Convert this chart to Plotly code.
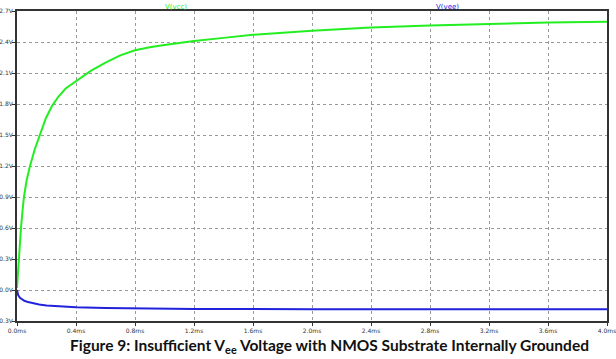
import plotly.graph_objects as go

# Data (time in ms, voltage in V)
vcc_t = [0, 0.004, 0.008, 0.0136, 0.02, 0.027, 0.037, 0.047, 0.065, 0.088, 0.12, 0.156, 0.195, 0.237, 0.28, 0.33, 0.4, 0.5, 0.6, 0.7, 0.8, 0.9, 1.0, 1.2, 1.4, 1.6, 2.0, 2.4, 2.8, 3.2, 3.6, 4.0]
vcc_v = [0.02, 0.12, 0.21, 0.3, 0.45, 0.6, 0.76, 0.9, 1.06, 1.2, 1.36, 1.5, 1.66, 1.78, 1.87, 1.95, 2.02, 2.12, 2.2, 2.27, 2.32, 2.35, 2.37, 2.41, 2.44, 2.47, 2.51, 2.54, 2.56, 2.575, 2.588, 2.595]
vee_t = [0, 0.003, 0.008, 0.02, 0.035, 0.05, 0.075, 0.1, 0.15, 0.2, 0.3, 0.4, 0.6, 0.8, 1.2, 2.0, 4.0]
vee_v = [0.0, -0.03, -0.05, -0.075, -0.092, -0.104, -0.117, -0.127, -0.14, -0.15, -0.16, -0.166, -0.173, -0.178, -0.183, -0.186, -0.187]

x_ticks = [0.0, 0.4, 0.8, 1.2, 1.6, 2.0, 2.4, 2.8, 3.2, 3.6, 4.0]
x_labels = ["0.0ms", "0.4ms", "0.8ms", "1.2ms", "1.6ms", "2.0ms", "2.4ms", "2.8ms", "3.2ms", "3.6ms", "4.0ms"]
y_ticks = [-0.3, 0.0, 0.3, 0.6, 0.9, 1.2, 1.5, 1.8, 2.1, 2.4, 2.7]
y_labels = ["-0.3V", "0.0V", "0.3V", "0.6V", "0.9V", "1.2V", "1.5V", "1.8V", "2.1V", "2.4V", "2.7V"]

caption = "Figure 9: Insufficient V<sub>ee</sub> Voltage with NMOS Substrate Internally Grounded"

fig = go.Figure()
fig.add_trace(go.Scatter(x=vcc_t, y=vcc_v, mode="lines", line=dict(color="#22ee22", width=2), name="V(vcc)"))
fig.add_trace(go.Scatter(x=vee_t, y=vee_v, mode="lines", line=dict(color="#2222dd", width=2), name="V(vee)"))

tickfont = dict(family="DejaVu Sans", size=6, color="#333333")
fig.update_xaxes(range=[0, 4.0], tickvals=x_ticks, ticktext=x_labels, showgrid=True,
                 gridcolor="#999999", griddash="dot", gridwidth=1, zeroline=False,
                 showline=True, linecolor="#333333", linewidth=2, mirror=True, automargin=False,
                 ticklabeloverflow="allow",
                 ticks="outside", ticklen=3, tickcolor="#333333", tickfont=tickfont)
fig.update_yaxes(range=[-0.3, 2.7], tickvals=y_ticks, ticktext=y_labels, showgrid=True,
                 gridcolor="#999999", griddash="dot", gridwidth=1, zeroline=False,
                 showline=True, linecolor="#333333", linewidth=2, mirror=True, automargin=False,
                 ticklabeloverflow="allow",
                 ticks="outside", ticklen=3, ticklabelstandoff=-2, tickcolor="#333333", tickfont=tickfont)

fig.add_annotation(text="V(vcc)", x=0.247, y=1.0, xref="paper", yref="paper", yanchor="bottom",
                   showarrow=False, font=dict(family="DejaVu Sans", size=7, color="#22ee22"), yshift=-2)
fig.add_annotation(text="V(vee)", x=0.753, y=1.0, xref="paper", yref="paper", yanchor="bottom",
                   showarrow=False, font=dict(family="DejaVu Sans", size=7, color="#2222dd"), yshift=-2)
fig.add_annotation(text="<b>" + caption + "</b>", x=0.53, y=-0.042, xref="paper", yref="paper",
                   yanchor="top", showarrow=False, font=dict(family="Lato", size=15.5, color="#111111"))

fig.update_layout(width=616, height=359, margin=dict(l=17, r=9, t=11, b=38),
                  paper_bgcolor="white", plot_bgcolor="white", showlegend=False)

fig.write_html("out.html")
